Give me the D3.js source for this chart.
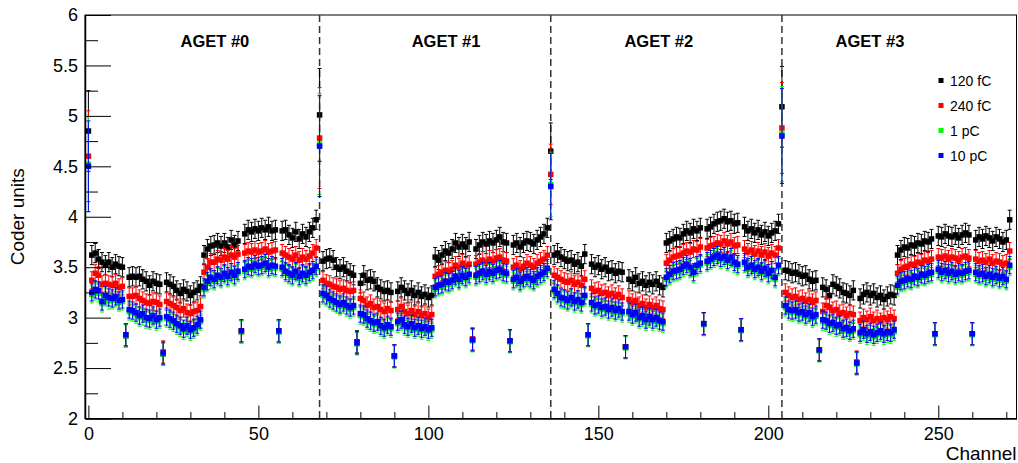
<!DOCTYPE html>
<html>
<head>
<meta charset="utf-8">
<script src="https://cdn.jsdelivr.net/npm/d3@7"></script>
<style>
  html, body { margin: 0; padding: 0; background: #fff; }
  svg { display: block; font-family: "Liberation Sans", Arial, Helvetica, sans-serif; }
</style>
</head>
<body>
<svg id="chart" width="1018" height="463"></svg>
<script>
// ---------------- DATA ----------------
const seriesNames = ["120 fC", "240 fC", "1 pC", "10 pC"];
const seriesColors = ["#000000", "#ff0000", "#00ff00", "#0000ff"];

const black = [
  4.85,
  3.62,3.64,3.58,3.55,3.52,3.55,3.50,3.53,3.51,3.50,
  2.82,
  3.40,3.41,3.40,3.41,3.38,3.36,3.32,3.36,3.34,3.33,
  2.64,
  3.35,3.33,3.31,3.27,3.24,3.28,3.26,3.22,3.25,3.27,3.31,
  3.62,3.68,3.71,3.72,3.74,3.71,3.74,3.70,3.77,3.72,3.76,
  2.86,
  3.83,3.87,3.85,3.88,3.86,3.89,3.87,3.90,3.86,3.87,
  2.86,
  3.86,3.87,3.82,3.79,3.85,3.78,3.83,3.80,3.85,3.89,3.97,
  5.01,
  3.56,3.58,3.59,3.57,3.50,3.48,3.50,3.46,3.44,3.42,
  2.76,
  3.34,3.42,3.37,3.38,3.36,3.30,3.28,3.26,3.27,3.25,
  2.62,
  3.26,3.30,3.27,3.24,3.27,3.22,3.25,3.21,3.23,3.20,3.22,
  3.60,3.57,3.62,3.66,3.64,3.68,3.74,3.70,3.73,3.70,3.75,
  2.78,
  3.68,3.72,3.75,3.73,3.76,3.74,3.77,3.80,3.75,3.74,
  2.77,
  3.72,3.74,3.70,3.74,3.76,3.75,3.73,3.77,3.80,3.83,3.89,
  4.65,
  3.62,3.64,3.60,3.58,3.56,3.57,3.53,3.55,3.51,3.63,
  2.83,
  3.53,3.50,3.52,3.48,3.50,3.46,3.47,3.44,3.46,3.45,
  2.71,
  3.38,3.36,3.40,3.34,3.36,3.32,3.35,3.33,3.36,3.32,3.30,
  3.74,3.76,3.78,3.80,3.79,3.83,3.86,3.84,3.88,3.86,3.89,
  2.94,
  3.88,3.90,3.93,3.95,3.96,3.98,3.95,3.96,3.93,3.94,
  2.88,
  3.90,3.86,3.88,3.84,3.87,3.82,3.85,3.81,3.84,3.86,3.93,
  5.09,
  3.47,3.46,3.44,3.45,3.43,3.41,3.42,3.38,3.36,3.37,
  2.68,
  3.30,3.28,3.22,3.33,3.31,3.29,3.25,3.24,3.22,3.27,
  2.55,
  3.19,3.23,3.25,3.22,3.24,3.20,3.22,3.18,3.21,3.23,3.22,
  3.62,3.67,3.70,3.69,3.72,3.71,3.74,3.73,3.76,3.75,3.78,
  2.84,
  3.81,3.80,3.83,3.81,3.80,3.82,3.79,3.82,3.84,3.82,
  2.84,
  3.77,3.80,3.78,3.81,3.79,3.76,3.80,3.78,3.75,3.77,3.97
];

const red = [
  4.60,
  3.37,3.44,3.42,3.33,3.34,3.33,3.32,3.34,3.30,3.31,
  2.83,
  3.21,3.21,3.22,3.19,3.17,3.15,3.14,3.16,3.15,3.13,
  2.66,
  3.16,3.14,3.12,3.10,3.07,3.09,3.05,3.04,3.06,3.07,3.11,
  3.45,3.50,3.55,3.55,3.58,3.57,3.60,3.58,3.62,3.60,3.63,
  2.87,
  3.64,3.66,3.65,3.67,3.65,3.66,3.68,3.65,3.66,3.67,
  2.87,
  3.64,3.62,3.60,3.58,3.62,3.57,3.60,3.58,3.61,3.64,3.69,
  4.78,
  3.37,3.34,3.33,3.31,3.30,3.28,3.29,3.27,3.26,3.27,
  2.75,
  3.19,3.17,3.12,3.14,3.10,3.11,3.08,3.06,3.09,3.07,
  2.62,
  3.08,3.11,3.06,3.04,3.07,3.03,3.06,3.02,3.04,3.00,3.03,
  3.41,3.43,3.45,3.47,3.46,3.48,3.52,3.50,3.54,3.51,3.53,
  2.79,
  3.53,3.55,3.57,3.55,3.58,3.56,3.59,3.60,3.57,3.56,
  2.77,
  3.50,3.52,3.48,3.51,3.54,3.52,3.50,3.54,3.56,3.58,3.62,
  4.42,
  3.42,3.40,3.38,3.36,3.35,3.37,3.33,3.35,3.32,3.38,
  2.83,
  3.29,3.26,3.27,3.24,3.25,3.22,3.24,3.21,3.23,3.20,
  2.71,
  3.18,3.15,3.17,3.12,3.14,3.10,3.13,3.10,3.12,3.09,3.08,
  3.54,3.57,3.60,3.61,3.62,3.64,3.66,3.65,3.68,3.67,3.70,
  2.94,
  3.69,3.71,3.72,3.74,3.73,3.76,3.73,3.75,3.71,3.72,
  2.88,
  3.68,3.65,3.67,3.63,3.66,3.62,3.65,3.61,3.64,3.62,3.69,
  4.88,
  3.25,3.22,3.20,3.21,3.18,3.19,3.16,3.18,3.15,3.17,
  2.68,
  3.06,3.12,3.10,3.07,3.08,3.04,3.05,3.02,3.04,3.03,
  2.56,
  2.97,3.00,2.98,3.01,2.97,2.99,2.96,3.00,2.98,3.01,2.99,
  3.44,3.48,3.50,3.51,3.53,3.52,3.55,3.54,3.57,3.56,3.58,
  2.84,
  3.60,3.59,3.61,3.58,3.60,3.59,3.57,3.60,3.61,3.59,
  2.84,
  3.58,3.56,3.57,3.55,3.58,3.54,3.56,3.55,3.53,3.54,3.66
];

const green = [
  4.52,
  3.23,3.26,3.24,3.14,3.20,3.17,3.17,3.19,3.15,3.16,
  2.82,
  3.06,3.05,3.03,3.00,3.01,2.98,2.97,3.00,2.96,2.98,
  2.64,
  2.99,2.97,2.95,2.92,2.90,2.87,2.90,2.86,2.88,2.91,2.96,
  3.28,3.34,3.37,3.36,3.40,3.38,3.42,3.39,3.43,3.40,3.44,
  2.86,
  3.46,3.49,3.48,3.51,3.49,3.50,3.52,3.48,3.50,3.49,
  2.86,
  3.48,3.44,3.42,3.40,3.44,3.39,3.42,3.40,3.43,3.45,3.49,
  4.72,
  3.22,3.20,3.17,3.15,3.13,3.11,3.13,3.10,3.08,3.10,
  2.74,
  3.02,3.01,2.97,2.95,2.93,2.94,2.90,2.88,2.91,2.89,
  2.61,
  2.94,2.96,2.91,2.89,2.92,2.88,2.90,2.87,2.89,2.86,2.88,
  3.28,3.30,3.31,3.34,3.33,3.35,3.39,3.36,3.40,3.38,3.41,
  2.77,
  3.40,3.42,3.44,3.41,3.44,3.42,3.45,3.46,3.43,3.42,
  2.76,
  3.36,3.38,3.34,3.37,3.39,3.37,3.35,3.39,3.41,3.43,3.47,
  4.32,
  3.26,3.22,3.18,3.17,3.15,3.18,3.14,3.16,3.13,3.20,
  2.82,
  3.13,3.10,3.11,3.08,3.09,3.06,3.08,3.05,3.07,3.04,
  2.70,
  3.04,3.01,3.03,2.98,3.00,2.96,2.99,2.96,2.98,2.95,2.94,
  3.38,3.41,3.44,3.45,3.46,3.49,3.51,3.48,3.43,3.50,3.52,
  2.93,
  3.54,3.56,3.58,3.60,3.57,3.59,3.55,3.58,3.53,3.51,
  2.87,
  3.53,3.48,3.50,3.46,3.48,3.44,3.47,3.42,3.45,3.38,3.50,
  4.82,
  3.10,3.06,3.05,3.06,3.03,3.04,3.01,3.03,2.99,3.01,
  2.67,
  2.96,2.95,2.92,2.93,2.90,2.91,2.87,2.88,2.85,2.87,
  2.54,
  2.83,2.86,2.82,2.84,2.81,2.83,2.85,2.82,2.84,2.83,2.86,
  3.30,3.34,3.35,3.37,3.36,3.39,3.38,3.41,3.40,3.42,3.43,
  2.83,
  3.46,3.43,3.45,3.42,3.44,3.41,3.43,3.42,3.44,3.45,
  2.83,
  3.43,3.41,3.42,3.39,3.41,3.38,3.40,3.37,3.39,3.36,3.50
];

const blue = [
  4.50,
  3.25,3.28,3.27,3.16,3.22,3.20,3.19,3.21,3.17,3.18,
  2.83,
  3.08,3.07,3.05,3.02,3.04,3.00,2.99,3.02,2.98,3.00,
  2.65,
  3.01,2.99,2.97,2.94,2.92,2.89,2.92,2.88,2.90,2.93,2.98,
  3.30,3.36,3.40,3.38,3.42,3.40,3.44,3.41,3.45,3.42,3.46,
  2.87,
  3.48,3.51,3.50,3.53,3.51,3.52,3.54,3.50,3.52,3.51,
  2.87,
  3.50,3.46,3.44,3.42,3.46,3.41,3.44,3.42,3.45,3.47,3.51,
  4.70,
  3.24,3.22,3.19,3.17,3.15,3.13,3.15,3.12,3.10,3.12,
  2.75,
  3.04,3.03,2.99,2.97,2.95,2.96,2.92,2.90,2.93,2.91,
  2.62,
  2.96,2.98,2.93,2.91,2.94,2.90,2.92,2.89,2.91,2.88,2.90,
  3.30,3.32,3.33,3.36,3.35,3.37,3.41,3.38,3.42,3.40,3.43,
  2.78,
  3.42,3.44,3.46,3.43,3.46,3.44,3.47,3.48,3.45,3.44,
  2.77,
  3.38,3.40,3.36,3.39,3.41,3.39,3.37,3.41,3.43,3.45,3.49,
  4.30,
  3.28,3.24,3.20,3.19,3.17,3.20,3.16,3.18,3.15,3.22,
  2.83,
  3.15,3.12,3.13,3.10,3.11,3.08,3.10,3.07,3.09,3.06,
  2.71,
  3.06,3.03,3.05,3.00,3.02,2.98,3.01,2.98,3.00,2.97,2.96,
  3.40,3.43,3.46,3.47,3.48,3.51,3.53,3.50,3.45,3.52,3.54,
  2.94,
  3.56,3.58,3.60,3.62,3.59,3.61,3.57,3.60,3.55,3.53,
  2.88,
  3.55,3.50,3.52,3.48,3.50,3.46,3.49,3.44,3.47,3.40,3.52,
  4.80,
  3.12,3.08,3.07,3.08,3.05,3.06,3.03,3.05,3.01,3.03,
  2.68,
  2.98,2.97,2.94,2.95,2.92,2.93,2.89,2.90,2.87,2.89,
  2.55,
  2.85,2.88,2.84,2.86,2.83,2.85,2.87,2.84,2.86,2.85,2.88,
  3.32,3.36,3.37,3.39,3.38,3.41,3.40,3.43,3.42,3.44,3.45,
  2.84,
  3.48,3.45,3.47,3.44,3.46,3.43,3.45,3.44,3.46,3.47,
  2.84,
  3.45,3.43,3.44,3.41,3.43,3.40,3.42,3.39,3.41,3.38,3.52
];

// error bars
const errTypical = [0.095, 0.085, 0.085, 0.085];  // per series, regular channels
const errFPN = [0.11, 0.11, 0.11, 0.11];          // per series, FPN channels
const fpnChannels = [11, 22, 45, 56, 79, 90, 113, 124, 147, 158, 181, 192, 215, 226, 249, 260];
const spikeChannels = [0, 68, 136, 204];
const spikeErrBlack = [0.40, 0.46, 0.28, 0.40];
const spikeErrRed   = [0.45, 0.50, 0.30, 0.45];
const spikeErrGreen = [0.47, 0.50, 0.32, 0.47];
const spikeErrBlue  = [0.45, 0.50, 0.33, 0.47];

// chip boundaries and labels
const chipBoundaries = [68, 136, 204];
const chipLabels = ["AGET #0", "AGET #1", "AGET #2", "AGET #3"];
const chipLabelChannel = [37.2, 105.2, 167.8, 229.9];

// axes
const xMajorTicks = [0, 50, 100, 150, 200, 250];
const xMinorTicks = [10, 20, 30, 40, 60, 70, 80, 90, 110, 120, 130, 140, 160, 170, 180, 190, 210, 220, 230, 240, 260, 270];
const yMajorTicks = [2, 2.5, 3, 3.5, 4, 4.5, 5, 5.5, 6];
const yTickLabels = ["2", "2.5", "3", "3.5", "4", "4.5", "5", "5.5", "6"];
const yMinorTicks = [2.25, 2.75, 3.25, 3.75, 4.25, 4.75, 5.25, 5.75];

// ---------------- CHART ----------------
const frame = { left: 85, right: 1016.5, top: 15, bottom: 418.5 };
const svg = d3.select("#chart");

const x = d3.scaleLinear().domain([-1, 273]).range([frame.left, frame.right]);
const y = d3.scaleLinear().domain([2, 6]).range([frame.bottom, frame.top]);

// frame
svg.append("rect")
  .attr("x", frame.left).attr("y", frame.top)
  .attr("width", frame.right - frame.left).attr("height", frame.bottom - frame.top)
  .attr("fill", "none").attr("stroke", "#000").attr("stroke-width", 1);

// chip boundary dashed lines
svg.append("g").selectAll("line").data(chipBoundaries).join("line")
  .attr("x1", d => x(d)).attr("x2", d => x(d))
  .attr("y1", frame.top).attr("y2", frame.bottom)
  .attr("stroke", "#333").attr("stroke-width", 1.5)
  .attr("stroke-dasharray", "7,4");

// chip labels
svg.append("g").selectAll("text").data(chipLabels).join("text")
  .attr("x", (d, i) => x(chipLabelChannel[i]))
  .attr("y", 47)
  .attr("text-anchor", "middle")
  .attr("font-size", "16.5px").attr("font-weight", "bold")
  .text(d => d);

// data
const allSeries = [black, red, green, blue];
const spikeErrs = [spikeErrBlack, spikeErrRed, spikeErrGreen, spikeErrBlue];
const channels = d3.range(black.length);
const mSize = 5.5, capHalf = 2;

allSeries.forEach((vals, s) => {
  const pts = channels.map(c => {
    let e = errTypical[s];
    const si = spikeChannels.indexOf(c);
    if (si >= 0) e = spikeErrs[s][si];
    else if (fpnChannels.includes(c)) e = errFPN[s];
    return { c, v: vals[c], e };
  });
  const g = svg.append("g").attr("stroke", seriesColors[s]).attr("fill", seriesColors[s]);
  const eg = g.append("g").attr("stroke-width", 1);
  eg.selectAll("line.v").data(pts).join("line").attr("class", "v")
    .attr("x1", d => x(d.c)).attr("x2", d => x(d.c))
    .attr("y1", d => y(d.v - d.e)).attr("y2", d => y(d.v + d.e));
  eg.selectAll("line.t").data(pts).join("line").attr("class", "t")
    .attr("x1", d => x(d.c) - capHalf).attr("x2", d => x(d.c) + capHalf)
    .attr("y1", d => y(d.v + d.e)).attr("y2", d => y(d.v + d.e));
  eg.selectAll("line.b").data(pts).join("line").attr("class", "b")
    .attr("x1", d => x(d.c) - capHalf).attr("x2", d => x(d.c) + capHalf)
    .attr("y1", d => y(d.v - d.e)).attr("y2", d => y(d.v - d.e));
  g.append("g").attr("stroke", "none").selectAll("rect").data(pts).join("rect")
    .attr("x", d => x(d.c) - mSize / 2).attr("y", d => y(d.v) - mSize / 2)
    .attr("width", mSize).attr("height", mSize);
});

// axes
const yAxis = d3.axisLeft(y).tickValues(yMajorTicks)
  .tickFormat((d, i) => yTickLabels[i]).tickSizeInner(-26).tickSizeOuter(0).tickPadding(7);
const gy = svg.append("g").attr("transform", `translate(${frame.left},0)`).call(yAxis);
svg.append("g").attr("transform", `translate(${frame.left},0)`)
  .call(d3.axisLeft(y).tickValues(yMinorTicks).tickFormat("").tickSizeInner(-13).tickSizeOuter(0))
  .select(".domain").remove();

const xAxis = d3.axisBottom(x).tickValues(xMajorTicks).tickFormat(d3.format("d"))
  .tickSizeInner(-13).tickSizeOuter(0).tickPadding(8.5);
const gx = svg.append("g").attr("transform", `translate(0,${frame.bottom})`).call(xAxis);
svg.append("g").attr("transform", `translate(0,${frame.bottom})`)
  .call(d3.axisBottom(x).tickValues(xMinorTicks).tickFormat("").tickSizeInner(-6.5).tickSizeOuter(0))
  .select(".domain").remove();

[gx, gy].forEach(g => {
  g.selectAll("text").attr("font-size", "18px").attr("fill", "#000")
    .attr("font-family", '"Liberation Sans", Arial, sans-serif');
  g.select(".domain").attr("stroke", "#000").attr("stroke-width", 1.5);
});
svg.selectAll(".tick line").attr("stroke", "#000").attr("stroke-width", 1);

// axis titles
svg.append("text")
  .attr("x", frame.right).attr("y", 460)
  .attr("text-anchor", "end").attr("font-size", "19px")
  .text("Channel");
svg.append("text")
  .attr("transform", `translate(24,${(frame.top + frame.bottom) / 2}) rotate(-90)`)
  .attr("text-anchor", "middle").attr("font-size", "19px")
  .text("Coder units");

// legend
const legend = svg.append("g");
seriesNames.forEach((name, i) => {
  const by = 85.5 + i * 25;
  legend.append("rect")
    .attr("x", 941 - 2.5).attr("y", by - 5 - 2.5)
    .attr("width", 5).attr("height", 5)
    .attr("fill", seriesColors[i]);
  legend.append("text")
    .attr("x", 950).attr("y", by)
    .attr("font-size", "14px")
    .text(name);
});
</script>
</body>
</html>
